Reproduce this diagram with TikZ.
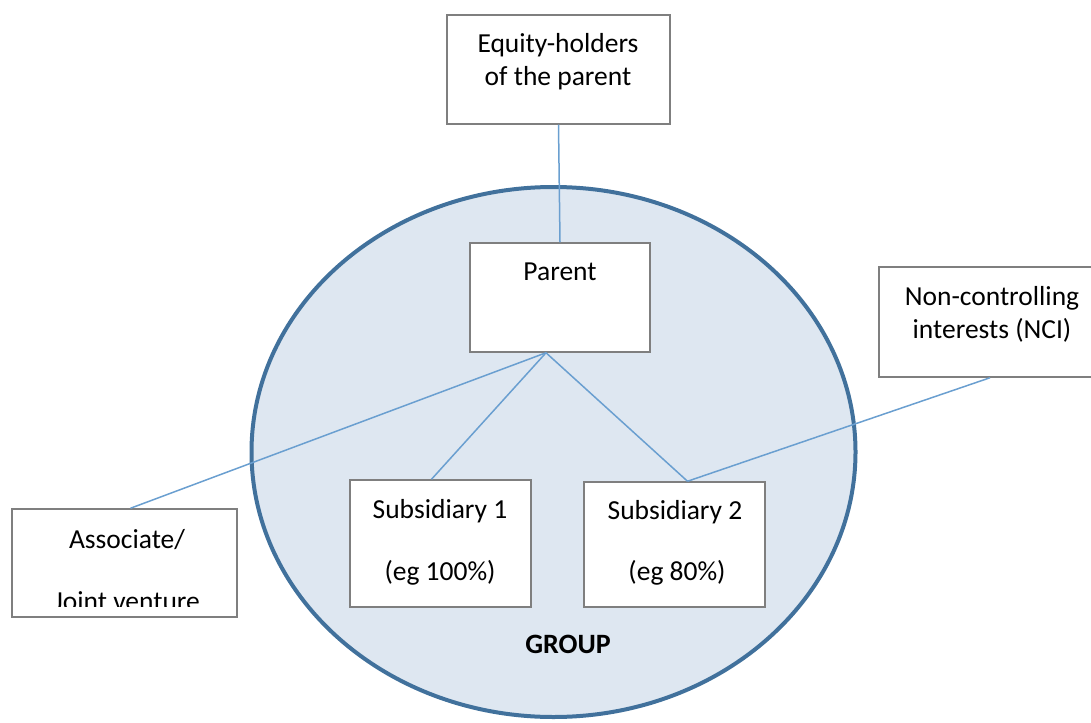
\documentclass[tikz,border=0pt]{standalone}
\usepackage{fontspec}
\setmainfont{Carlito}
\usetikzlibrary{calc}
\definecolor{ringblue}{HTML}{41719C}
\definecolor{ringfill}{HTML}{DEE7F1}
\definecolor{linkblue}{HTML}{6A9FD0}
\definecolor{boxgray}{HTML}{7F7F7F}
\begin{document}
\begin{tikzpicture}[x=1pt,y=-1pt,
  box/.style={draw=boxgray, line width=1.5pt, fill=white, inner sep=0pt, rectangle},
  label/.style={anchor=base, inner sep=0pt, font=\fontsize{27.5}{33}\selectfont},
  link/.style={draw=linkblue, line width=1.5pt}]
\useasboundingbox (0,0) rectangle (1091,722);

% the group
\draw[ringblue, line width=4pt, fill=ringfill] (553.5,452) ellipse [x radius=302, y radius=265];

% boxes
\node[box, minimum width=223pt, minimum height=109pt] (eq) at (558.5,69.5) {};
\node[box, minimum width=180pt, minimum height=109pt] (parent) at (560,297.5) {};
\node[box, minimum width=230pt, minimum height=110pt] (nci) at (994,322) {};
\node[box, minimum width=225pt, minimum height=108pt] (assoc) at (124.5,563) {};
\node[box, minimum width=181pt, minimum height=127pt] (sub1) at (440.5,543.5) {};
\node[box, minimum width=181pt, minimum height=125pt] (sub2) at (674.5,544.5) {};

% connectors
\coordinate (pfoot) at ($(parent.south)+(-14,0)$);
\coordinate (s1top) at ($(sub1.north)+(-9,0)$);
\coordinate (s2top) at ($(sub2.north)+(13,0)$);
\coordinate (atop) at ($(assoc.north)+(6,0)$);
\coordinate (nfoot) at ($(nci.south)+(-4,0)$);
\draw[link] (eq.south) -- (parent.north);
\draw[link] (pfoot) -- (s1top);
\draw[link] (pfoot) -- (s2top);
\draw[link] (pfoot) -- (atop);
\draw[link] (nfoot) -- (s2top);

% texts
\node[label] (eqa) at (558,53) {Equity-holders};
\node[label] (eqb) at (558,86) {of the parent};
\node[label] (pt) at (560,280) {Parent};
\node[label] (na) at (992,305) {Non-controlling};
\node[label] (nb) at (992,338) {interests (NCI)};
\node[label] (s1a) at (440,518) {Subsidiary 1};
\node[label] (s1b) at (440,580) {(eg 100\%)};
\node[label] (s2a) at (675,519) {Subsidiary 2};
\node[label] (s2b) at (677,580) {(eg 80\%)};
\node[label] (aa) at (127,548) {Associate/};
\begin{scope}
  \clip (14,509) rectangle (235,606);
  \node[label] (ab) at (127,610) {Joint venture};
\end{scope}
\node[label, font=\bfseries\fontsize{28}{33}\selectfont] (grp) at (568,653) {GROUP};
\end{tikzpicture}
\end{document}
